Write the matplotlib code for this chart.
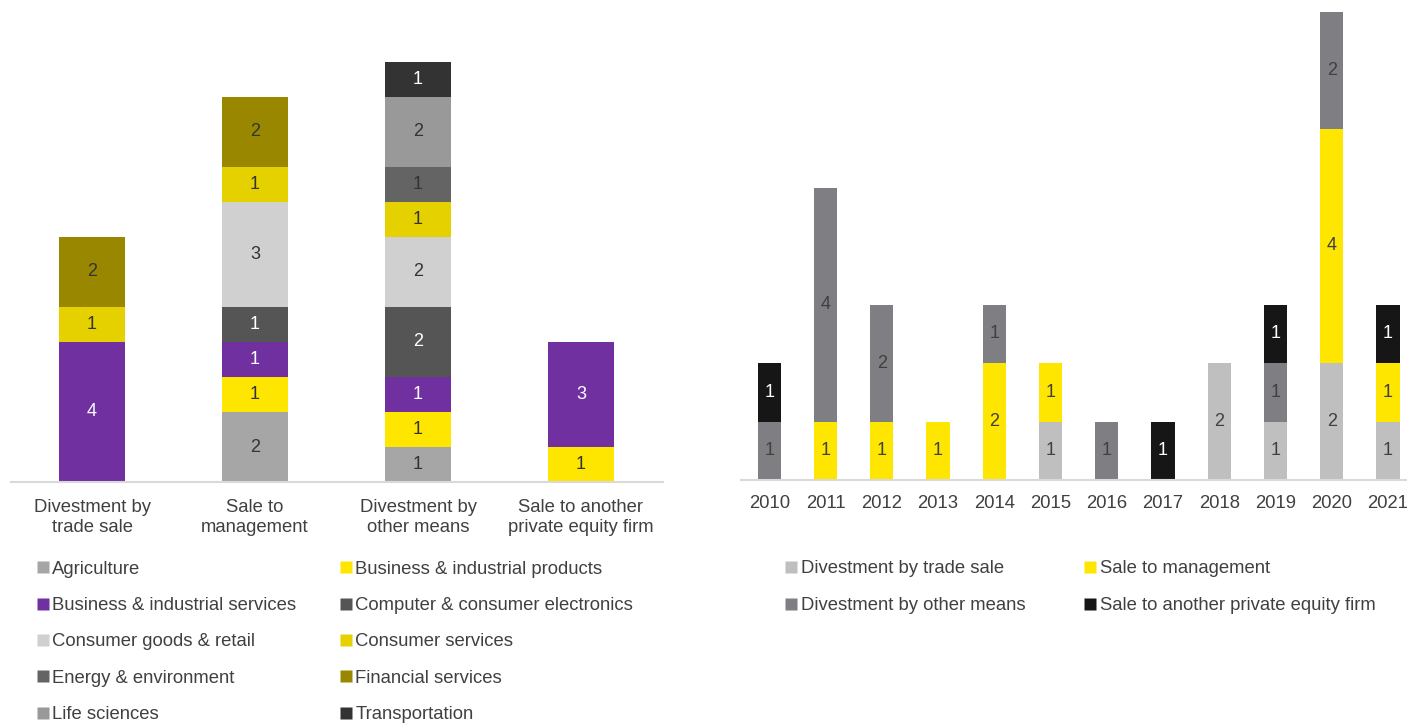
import numpy as np
import matplotlib
matplotlib.use("Agg")
import matplotlib.pyplot as plt
from matplotlib.lines import Line2D

plt.rcParams["font.family"] = ["Liberation Sans", "DejaVu Sans"]
FS = 13.3

# ── left chart: exits by sector and route ────────────────────────────────────
routes = ["Divestment by\ntrade sale", "Sale to\nmanagement",
          "Divestment by\nother means", "Sale to another\nprivate equity firm"]
sectors = ["Agriculture", "Business & industrial products",
           "Business & industrial services", "Computer & consumer electronics",
           "Consumer goods & retail", "Consumer services",
           "Energy & environment", "Financial services",
           "Life sciences", "Transportation"]
agriculture    = [0, 2, 1, 0]
bi_products    = [0, 1, 1, 1]
bi_services    = [4, 1, 1, 3]
computer       = [0, 1, 2, 0]
consumer_goods = [0, 3, 2, 0]
consumer_serv  = [1, 1, 1, 0]
energy         = [0, 0, 1, 0]
financial      = [2, 2, 0, 0]
life_sciences  = [0, 0, 2, 0]
transportation = [0, 0, 1, 0]
sector_values = [agriculture, bi_products, bi_services, computer, consumer_goods,
                 consumer_serv, energy, financial, life_sciences, transportation]
sector_colors = ["#A6A6A6", "#FFE600", "#7030A0", "#555555", "#D0D0D0",
                 "#E6D100", "#646464", "#9A8700", "#999999", "#333333"]
sector_text = ["#333333", "#333333", "white", "white", "#333333",
               "#333333", "#333333", "#333333", "#333333", "white"]

# ── right chart: exits by year and route ─────────────────────────────────────
years = ["2010", "2011", "2012", "2013", "2014", "2015",
         "2016", "2017", "2018", "2019", "2020", "2021"]
trade_sale  = [0, 0, 0, 0, 0, 1, 0, 0, 2, 1, 2, 1]
management  = [0, 1, 1, 1, 2, 1, 0, 0, 0, 0, 4, 1]
other_means = [1, 4, 2, 0, 1, 0, 1, 0, 0, 1, 2, 0]
private_eq  = [1, 0, 0, 0, 0, 0, 0, 1, 0, 1, 0, 1]
route_names = ["Divestment by trade sale", "Sale to management",
               "Divestment by other means", "Sale to another private equity firm"]
route_values = [trade_sale, management, other_means, private_eq]
route_colors = ["#BFBFBF", "#FFE600", "#7F7F83", "#161616"]
route_text = ["#404040", "#404040", "#404040", "white"]

TICK_COLOR = "#404040"
AXIS_COLOR = "#D9D9D9"

W, H = 1407, 724
fig = plt.figure(figsize=(W / 100, H / 100), dpi=100)
# axes placed in pixel terms
ax1 = fig.add_axes([10.5 / W, (H - 482) / H, 652 / W, 420 / H])
ax2 = fig.add_axes([741.1 / W, (H - 480) / H, 675.0 / W, 468 / H])


def stacked(ax, n, values, colors, text_colors, width):
    x = np.arange(n)
    bottom = np.zeros(n)
    for vals, col, tcol in zip(values, colors, text_colors):
        vals = np.array(vals, dtype=float)
        bars = ax.bar(x, vals, width=width, bottom=bottom, color=col,
                      edgecolor="none")
        labels = [f"{int(v)}" if v > 0 else "" for v in vals]
        ax.bar_label(bars, labels=labels, label_type="center",
                     color=tcol, fontsize=13)
        bottom += vals
    return x


def style(ax, x, labels, n, pad):
    ax.set_xticks(x)
    ax.set_xticklabels(labels, color=TICK_COLOR, fontsize=FS, linespacing=1.25)
    ax.tick_params(axis="x", length=0, pad=pad)
    ax.set_yticks([])
    ax.set_xlim(-0.5, n - 0.5)
    for s in ["top", "right", "left"]:
        ax.spines[s].set_visible(False)
    ax.spines["bottom"].set_color(AXIS_COLOR)
    ax.spines["bottom"].set_linewidth(1.5)


x1 = stacked(ax1, len(routes), sector_values, sector_colors, sector_text, 0.4)
style(ax1, x1, routes, len(routes), 12)
ax1.set_ylim(0, 12)

x2 = stacked(ax2, len(years), route_values, route_colors, route_text, 0.41)
style(ax2, x2, years, len(years), 11)
ax2.set_ylim(0, 8)


def square(c):
    return Line2D([], [], marker="s", linestyle="none", markersize=8.2,
                  markerfacecolor=c, markeredgecolor="none")


h1 = [square(c) for c in sector_colors]
order = list(range(0, 10, 2)) + list(range(1, 10, 2))
fig.legend([h1[i] for i in order], [sectors[i] for i in order],
           loc="upper left", bbox_to_anchor=(38.4 / W, 0.2254), ncol=2,
           frameon=False, fontsize=FS, labelcolor=TICK_COLOR,
           handlelength=0.5, handletextpad=0.24, labelspacing=1.045,
           columnspacing=2.47, borderaxespad=0, borderpad=0)

h2 = [square(c) for c in route_colors]
fig.legend([h2[0], h2[2], h2[1], h2[3]],
           [route_names[0], route_names[2], route_names[1], route_names[3]],
           loc="upper left", bbox_to_anchor=(786.7 / W, 0.2265), ncol=2,
           frameon=False, fontsize=FS, labelcolor=TICK_COLOR,
           handlelength=0.5, handletextpad=0.3, labelspacing=1.09,
           columnspacing=3.2, borderaxespad=0, borderpad=0)

fig.savefig("out.png", dpi=100)
